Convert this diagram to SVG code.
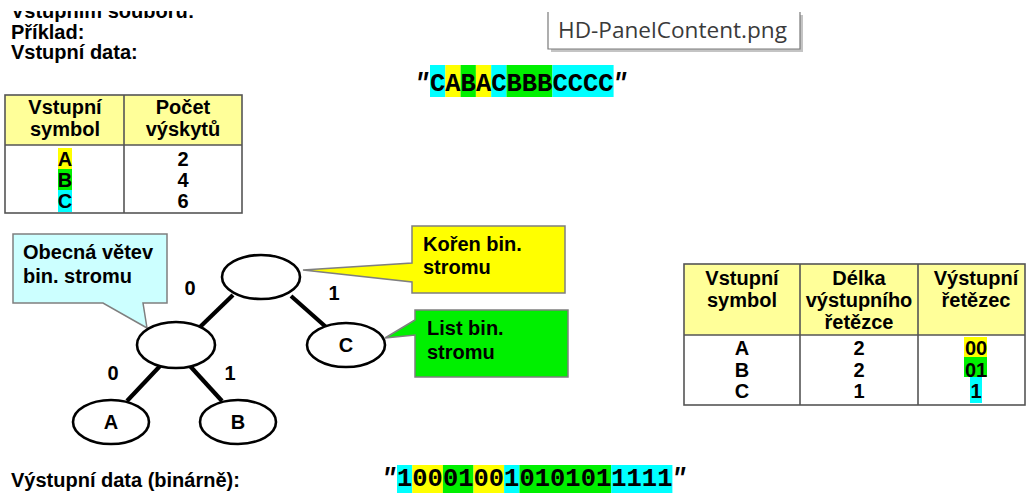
<svg xmlns="http://www.w3.org/2000/svg" width="1027" height="493" viewBox="0 0 1027 493">
  <defs>
    <style>
      .t { font-family: "Liberation Sans", Arial, sans-serif; font-weight: bold; font-size: 20px; fill: #000; }
      .c { text-anchor: middle; }
      .mono { font-family: "Liberation Mono", "Courier New", monospace; font-weight: bold; font-size: 25.5px; fill: #000; }
      .q { font-family: "Liberation Mono", "Courier New", monospace; font-weight: bold; font-style: italic; font-size: 25.5px; fill: #000; }
      .tbl { fill: none; stroke: #555; stroke-width: 1.6; }
      .hdr { fill: #FFFF99; }
      .node { fill: #fff; stroke: #000; stroke-width: 2.6; }
      .edge { stroke: #000; stroke-width: 4.2; stroke-linecap: butt; }
      .call { stroke: #7f7f7f; stroke-width: 1.5; }
      .y { fill: #FFFF00; }
      .g { fill: #00F000; }
      .cy { fill: #00FFFF; }
    </style>
    <clipPath id="topClip">
      <rect x="0" y="11" width="400" height="20"/>
    </clipPath>
  </defs>

  <rect width="1027" height="493" fill="#fff"/>

  <!-- heading lines -->
  <g id="heading">
    <text class="t" x="11" y="18" clip-path="url(#topClip)">Vstupním souboru:</text>
    <text class="t" x="11" y="39">Příklad:</text>
    <text class="t" x="11" y="59">Vstupní data:</text>
  </g>

  <!-- file name tooltip -->
  <g id="tooltip">
    <rect x="551" y="15" width="252" height="37" fill="#c4c4c4"/>
    <rect x="548" y="12" width="252" height="37" fill="#fff"/>
    <path d="M548,12 V49 H800 V12" fill="none" stroke="#7a7a7a" stroke-width="1.2"/>
    <text x="558" y="38" font-family="'Open Sans', 'Noto Sans', sans-serif" font-size="21" fill="#3a3a3a" textLength="229" lengthAdjust="spacingAndGlyphs">HD-PanelContent.png</text>
  </g>

  <!-- input string -->
  <g id="input-string">
    <rect class="cy" x="430" y="65" width="15.3" height="32"/>
    <rect class="y" x="445.3" y="65" width="15.3" height="32"/>
    <rect class="g" x="460.6" y="65" width="15.3" height="32"/>
    <rect class="y" x="475.9" y="65" width="15.3" height="32"/>
    <rect class="cy" x="491.2" y="65" width="15.3" height="32"/>
    <rect class="g" x="506.5" y="65" width="45.9" height="32"/>
    <rect class="cy" x="552.4" y="65" width="61.2" height="32"/>
    <text class="q" x="414" y="91">"</text>
    <text class="mono" x="430" y="91">CABACBBBCCCC</text>
    <text class="q" x="612" y="91">"</text>
  </g>

  <!-- frequency table -->
  <g id="table-frequency">
    <rect class="hdr" x="5" y="95" width="237" height="50"/>
    <rect class="y" x="58" y="148" width="14" height="21"/>
    <rect class="g" x="58" y="169" width="14" height="21"/>
    <rect class="cy" x="58" y="190" width="14" height="22"/>
    <rect class="tbl" x="5" y="95" width="237" height="118"/>
    <line class="tbl" x1="5" y1="145" x2="242" y2="145"/>
    <line class="tbl" x1="124" y1="95" x2="124" y2="213"/>
    <text class="t c" x="65" y="114">Vstupní</text>
    <text class="t c" x="65" y="136">symbol</text>
    <text class="t c" x="183" y="114">Počet</text>
    <text class="t c" x="183" y="136">výskytů</text>
    <text class="t c" x="65" y="166">A</text>
    <text class="t c" x="65" y="187">B</text>
    <text class="t c" x="65" y="208">C</text>
    <text class="t c" x="183" y="166">2</text>
    <text class="t c" x="183" y="187">4</text>
    <text class="t c" x="183" y="208">6</text>
  </g>

  <!-- callouts -->
  <g id="callout-branch">
    <path class="call" d="M13,234 H167 V303 H143 L147,328 L103,303 H13 Z" fill="#CCFFFF"/>
    <text class="t" x="23" y="259">Obecná větev</text>
    <text class="t" x="23" y="283">bin. stromu</text>
  </g>
  <g id="callout-root">
    <path class="call" d="M412,226 H565 V293 H412 V282 L303,270 L412,263 Z" fill="#FFFF00"/>
    <text class="t" x="423" y="251">Kořen bin.</text>
    <text class="t" x="423" y="274">stromu</text>
  </g>
  <g id="callout-leaf">
    <path class="call" d="M415,310 H568 V377 H415 V335 L385,338 L415,320 Z" fill="#00F000"/>
    <text class="t" x="427" y="335">List bin.</text>
    <text class="t" x="427" y="359">stromu</text>
  </g>

  <!-- tree connectors -->
  <g id="connectors">
    <line class="edge" x1="233" y1="295" x2="200" y2="327"/>
    <line class="edge" x1="291" y1="296" x2="326" y2="327"/>
    <line class="edge" x1="160" y1="366" x2="127" y2="401"/>
    <line class="edge" x1="190" y1="366" x2="222" y2="401"/>
    <text class="t c" x="190" y="295">0</text>
    <text class="t c" x="334" y="300">1</text>
    <text class="t c" x="113" y="380">0</text>
    <text class="t c" x="230" y="380">1</text>
  </g>

  <!-- tree nodes -->
  <g id="node-root">
    <ellipse class="node" cx="261" cy="277" rx="39" ry="22"/>
  </g>
  <g id="node-branch">
    <ellipse class="node" cx="176" cy="345" rx="39" ry="23"/>
  </g>
  <g id="node-c">
    <ellipse class="node" cx="346" cy="345" rx="39" ry="22"/>
    <text class="t c" x="346" y="352">C</text>
  </g>
  <g id="node-a">
    <ellipse class="node" cx="111" cy="422" rx="38" ry="22"/>
    <text class="t c" x="111" y="429">A</text>
  </g>
  <g id="node-b">
    <ellipse class="node" cx="238" cy="422" rx="38" ry="22"/>
    <text class="t c" x="238" y="429">B</text>
  </g>

  <!-- code table -->
  <g id="table-codes">
    <rect class="hdr" x="684" y="264" width="341" height="71"/>
    <rect class="y" x="964" y="337" width="23" height="20"/>
    <rect class="g" x="964" y="357" width="23" height="20"/>
    <rect class="cy" x="970" y="377" width="12" height="26"/>
    <rect class="tbl" x="684" y="264" width="341" height="141"/>
    <line class="tbl" x1="684" y1="335" x2="1025" y2="335"/>
    <line class="tbl" x1="800" y1="264" x2="800" y2="405"/>
    <line class="tbl" x1="918" y1="264" x2="918" y2="405"/>
    <text class="t c" x="742" y="285">Vstupní</text>
    <text class="t c" x="742" y="307">symbol</text>
    <text class="t c" x="859" y="285">Délka</text>
    <text class="t c" x="859" y="307">výstupního</text>
    <text class="t c" x="859" y="329">řetězce</text>
    <text class="t c" x="976" y="285">Výstupní</text>
    <text class="t c" x="976" y="307">řetězec</text>
    <text class="t c" x="742" y="355">A</text>
    <text class="t c" x="742" y="377">B</text>
    <text class="t c" x="742" y="398">C</text>
    <text class="t c" x="859" y="355">2</text>
    <text class="t c" x="859" y="377">2</text>
    <text class="t c" x="859" y="398">1</text>
    <text class="t c" x="976" y="355">00</text>
    <text class="t c" x="976" y="377">01</text>
    <text class="t c" x="976" y="398">1</text>
  </g>

  <!-- output string -->
  <g id="output-string">
    <text class="t" x="11" y="487">Výstupní data (binárně):</text>
    <rect class="cy" x="397" y="465" width="15.3" height="28"/>
    <rect class="y" x="412.3" y="465" width="30.6" height="28"/>
    <rect class="g" x="442.9" y="465" width="30.6" height="28"/>
    <rect class="y" x="473.5" y="465" width="30.6" height="28"/>
    <rect class="cy" x="504.1" y="465" width="15.3" height="28"/>
    <rect class="g" x="519.4" y="465" width="91.8" height="28"/>
    <rect class="cy" x="611.2" y="465" width="61.2" height="28"/>
    <text class="q" x="381" y="486">"</text>
    <text class="mono" x="397" y="486">100010010101011111</text>
    <text class="q" x="671" y="486">"</text>
  </g>
</svg>
